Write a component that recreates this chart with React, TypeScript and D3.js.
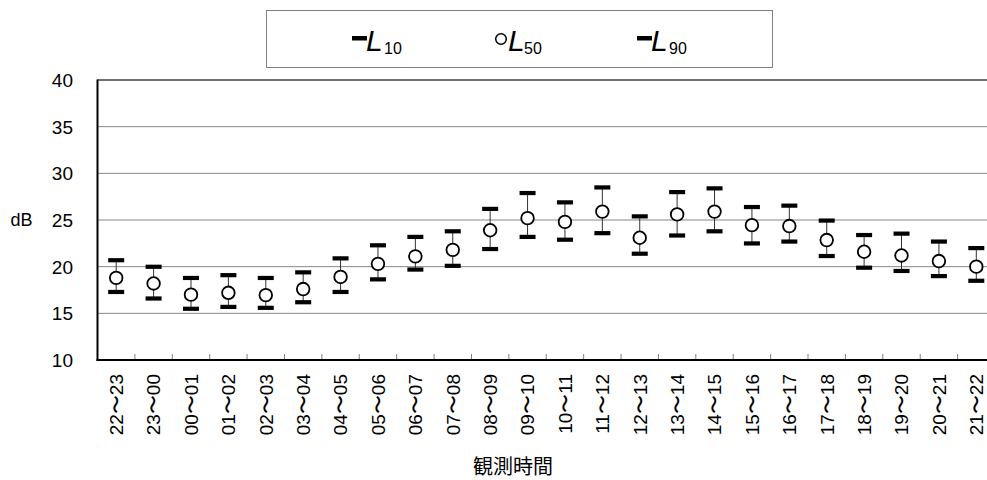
import * as d3 from 'd3'

const categories = [
  '22〜23', '23〜00', '00〜01', '01〜02', '02〜03', '03〜04', '04〜05', '05〜06',
  '06〜07', '07〜08', '08〜09', '09〜10', '10〜11', '11〜12', '12〜13', '13〜14',
  '14〜15', '15〜16', '16〜17', '17〜18', '18〜19', '19〜20', '20〜21', '21〜22',
]
const l10 = [20.7, 20.0, 18.8, 19.1, 18.8, 19.4, 20.9, 22.3, 23.2, 23.8, 26.2, 27.9, 26.9, 28.5, 25.4, 28.0, 28.4, 26.4, 26.55, 24.95, 23.4, 23.55, 22.7, 22.0]
const l50 = [18.8, 18.2, 17.0, 17.2, 16.95, 17.6, 18.9, 20.3, 21.1, 21.8, 23.9, 25.2, 24.8, 25.9, 23.1, 25.6, 25.9, 24.45, 24.35, 22.85, 21.6, 21.2, 20.6, 20.0]
const l90 = [17.3, 16.6, 15.5, 15.7, 15.6, 16.2, 17.3, 18.65, 19.7, 20.1, 21.9, 23.2, 22.9, 23.6, 21.4, 23.35, 23.8, 22.5, 22.7, 21.15, 19.9, 19.55, 19.0, 18.5]
const yTicks = [10, 15, 20, 25, 30, 35, 40]

const W = 987
const H = 480
const left = 97.5
const right = 995
const top = 80
const bottom = 360
const font = 'Arial, "Liberation Sans", sans-serif'
const cjk = '"Noto Sans CJK JP", sans-serif'

export default function App() {
  const x = d3.scaleBand<string>().domain(categories).range([left, right]).padding(0)
  const y = d3.scaleLinear().domain([10, 40]).range([bottom, top])
  const bw = x.bandwidth()

  return (
    <>
      <style>{`body{margin:0}`}</style>
      <svg width={W} height={H} style={{ display: 'block', background: '#fff' }}>
        {/* legend */}
        <rect x={266.5} y={10.5} width={506} height={57} fill="#fff" stroke="#808080" strokeWidth={1} />
        <g fontFamily={font} fill="#000">
          <rect x={352} y={36} width={15} height={4.5} />
          <text x={366} y={51} fontSize={30} fontStyle="italic">L</text>
          <text x={384} y={54} fontSize={16}>10</text>

          <circle cx={501} cy={39} r={5.3} fill="#fff" stroke="#000" strokeWidth={1.5} />
          <text x={508} y={51} fontSize={30} fontStyle="italic">L</text>
          <text x={524} y={54} fontSize={16}>50</text>

          <rect x={637} y={36} width={15} height={4.5} />
          <text x={651} y={51} fontSize={30} fontStyle="italic">L</text>
          <text x={669} y={54} fontSize={16}>90</text>
        </g>

        {/* grid */}
        {yTicks.filter(t => t > 10 && t < 40).map(t => (
          <line key={t} x1={left} x2={right} y1={y(t)} y2={y(t)} stroke="#868686" strokeWidth={1} />
        ))}
        <line x1={left} x2={right} y1={y(40)} y2={y(40)} stroke="#404040" strokeWidth={1.5} />

        {/* x ticks inside */}
        {categories.slice(1).map(c => (
          <line key={c} x1={x(c)!} x2={x(c)!} y1={bottom} y2={bottom - 6} stroke="#808080" strokeWidth={1} />
        ))}

        {/* axes */}
        <line x1={left} x2={left} y1={top - 0.5} y2={bottom + 1} stroke="#000" strokeWidth={2} />
        <line x1={left - 1} x2={right} y1={bottom} y2={bottom} stroke="#000" strokeWidth={2} />

        {/* y labels */}
        <g fontFamily={font} fontSize={19} fill="#000" textAnchor="end">
          {yTicks.map(t => (
            <text key={t} x={73} y={y(t)} dy="0.36em">{t}</text>
          ))}
        </g>
        <text x={21.5} y={y(25)} dy="0.36em" fontFamily={font} fontSize={18} textAnchor="middle">dB</text>

        {/* x labels */}
        <g fontFamily={font} fontSize={19} fill="#000">
          {categories.map(c => {
            const cx = x(c)! + bw / 2
            return (
              <text key={c} transform={`translate(${cx},374) rotate(-90)`} textAnchor="end" dy="0.36em">{c}</text>
            )
          })}
        </g>
        <text x={513} y={474} fontFamily={cjk} fontSize={20} textAnchor="middle">観測時間</text>

        {/* error bars */}
        {categories.map((c, i) => {
          const cx = x(c)! + bw / 2
          return (
            <g key={c}>
              <line x1={cx} x2={cx} y1={y(l10[i])} y2={y(l90[i])} stroke="#333" strokeWidth={1} />
              <rect x={cx - 8} y={y(l10[i]) - 2} width={16} height={4.2} fill="#000" />
              <rect x={cx - 8} y={y(l90[i]) - 2} width={16} height={4.2} fill="#000" />
              <circle cx={cx} cy={y(l50[i])} r={6.3} fill="#fff" stroke="#000" strokeWidth={1.8} />
            </g>
          )
        })}
      </svg>
    </>
  )
}
